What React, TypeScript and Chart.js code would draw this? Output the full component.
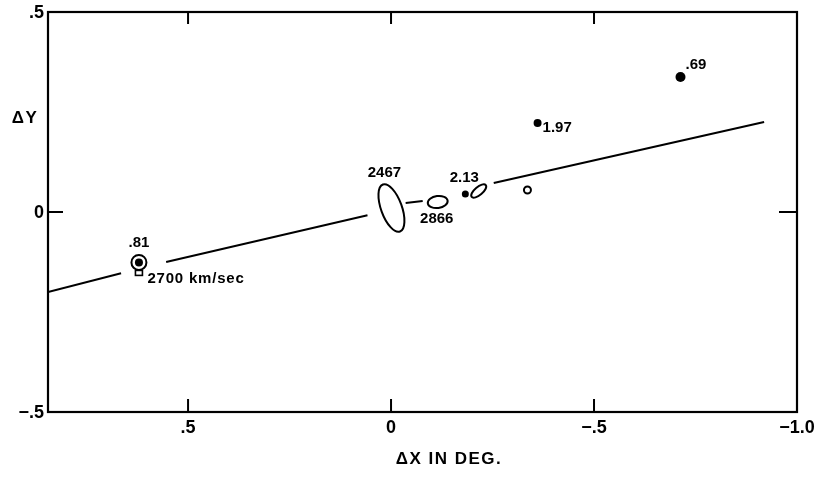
import React, { useEffect, useRef } from 'react';
import { Chart, registerables } from 'chart.js';

Chart.register(...registerables);

// ---- data ----
const xTickValues = [0.5, 0, -0.5, -1.0];
const xTickLabels = ['.5', '0', '\u2212.5', '\u22121.0'];
const yTickValues = [0.5, 0, -0.5];
const yTickLabels = ['.5', '0', '\u2212.5'];

// fitted line, drawn in pieces (gaps around symbols and labels)
const lineSeg1X = [0.845, 0.665];
const lineSeg1Y = [-0.2, -0.153];
const lineSeg2X = [0.554, 0.058];
const lineSeg2Y = [-0.125, -0.008];
const lineSeg3X = [-0.036, -0.078];
const lineSeg3Y = [0.0225, 0.0275];
const lineSeg4X = [-0.253, -0.919];
const lineSeg4Y = [0.0725, 0.225];

// filled dots
const dotNames = ['.81', '2.13', '1.97', '.69'];
const dotX = [0.621, -0.183, -0.361, -0.713];
const dotY = [-0.126, 0.045, 0.2225, 0.3375];

// open circle
const openX = [-0.336];
const openY = [0.055];

// error ellipses (semi-axes in data units)
const ellipseNames = ['2467', '2866', ''];
const ellipseX = [-0.001, -0.115, -0.216];
const ellipseY = [0.01, 0.025, 0.0525];
const ellipseRx = [0.026, 0.025, 0.023];
const ellipseRy = [0.0625, 0.015, 0.01];
const ellipseRot = [-20, -8, -40];

const velocityLabel = '2700 km/sec';
const xTitle = '\u0394X IN DEG.';
const yTitle = '\u0394Y';

// ---- styles / label placement (pixels) ----
const TICK_FONT = 'bold 18px "Liberation Sans", Arial, sans-serif';
const TITLE_FONT = 'bold 17px "Liberation Sans", Arial, sans-serif';
const LABEL_FONT = 'bold 15px "Liberation Sans", Arial, sans-serif';
const dotLabelStyle = [
  { dx: 0, dy: -19.5, align: 'center' },
  { dx: -1, dy: -16.5, align: 'center' },
  { dx: 5, dy: 5, align: 'left' },
  { dx: 5, dy: -12, align: 'left' },
];
const ellipseLabelStyle = [
  { dx: -7, dy: -35, align: 'center' },
  { dx: -1, dy: 17, align: 'center' },
  { dx: 0, dy: 0, align: 'center' },
];

const overlayPlugin = {
  id: 'overlay',
  afterDatasetsDraw(chart: any) {
    const { ctx, chartArea, scales } = chart;
    const xs = scales.x;
    const ys = scales.y;
    const { left, right, top, bottom } = chartArea;
    const unitY = Math.abs(ys.getPixelForValue(0) - ys.getPixelForValue(1));
    ctx.save();
    ctx.strokeStyle = '#000';
    ctx.fillStyle = '#000';

    // ellipses
    ctx.lineWidth = 2;
    for (let i = 0; i < ellipseX.length; i++) {
      const cx = xs.getPixelForValue(ellipseX[i]);
      const cy = ys.getPixelForValue(ellipseY[i]);
      ctx.beginPath();
      ctx.ellipse(cx, cy, ellipseRx[i] * unitY, ellipseRy[i] * unitY, (ellipseRot[i] * Math.PI) / 180, 0, Math.PI * 2);
      ctx.stroke();
    }

    // small square under the .81 symbol
    {
      const cx = xs.getPixelForValue(dotX[0]);
      const cy = ys.getPixelForValue(dotY[0]);
      ctx.lineWidth = 1.6;
      ctx.strokeRect(cx - 3.5, cy + 8, 7, 5);
    }

    // frame
    ctx.lineWidth = 2.2;
    ctx.strokeRect(left, top, right - left, bottom - top);

    // ticks
    ctx.lineWidth = 2;
    for (const v of xTickValues) {
      const px = xs.getPixelForValue(v);
      if (px <= left + 2 || px >= right - 2) continue;
      ctx.beginPath();
      ctx.moveTo(px, bottom);
      ctx.lineTo(px, bottom - 13);
      ctx.moveTo(px, top);
      ctx.lineTo(px, top + 12);
      ctx.stroke();
    }
    for (const v of yTickValues) {
      const py = ys.getPixelForValue(v);
      if (py <= top + 2 || py >= bottom - 2) continue;
      ctx.beginPath();
      ctx.moveTo(left, py);
      ctx.lineTo(left + 15, py);
      ctx.moveTo(right, py);
      ctx.lineTo(right - 18, py);
      ctx.stroke();
    }

    // tick labels
    ctx.font = TICK_FONT;
    ctx.textBaseline = 'middle';
    ctx.textAlign = 'center';
    xTickValues.forEach((v, i) => {
      ctx.fillText(xTickLabels[i], xs.getPixelForValue(v), bottom + 16);
    });
    ctx.textAlign = 'right';
    yTickValues.forEach((v, i) => {
      ctx.fillText(yTickLabels[i], left - 4, ys.getPixelForValue(v) + 1);
    });

    // axis titles
    ctx.textAlign = 'center';
    ctx.font = TITLE_FONT;
    (ctx as any).letterSpacing = '1.5px';
    ctx.fillText(xTitle, 449, 459);
    ctx.fillText(yTitle, 25, 118);
    (ctx as any).letterSpacing = '0px';

    // point labels
    ctx.font = LABEL_FONT;
    dotNames.forEach((name, i) => {
      const s = dotLabelStyle[i];
      ctx.textAlign = s.align;
      ctx.fillText(name, xs.getPixelForValue(dotX[i]) + s.dx, ys.getPixelForValue(dotY[i]) + s.dy);
    });
    ellipseNames.forEach((name, i) => {
      if (!name) return;
      const s = ellipseLabelStyle[i];
      ctx.textAlign = s.align;
      ctx.fillText(name, xs.getPixelForValue(ellipseX[i]) + s.dx, ys.getPixelForValue(ellipseY[i]) + s.dy);
    });
    // velocity label next to the .81 symbol
    ctx.textAlign = 'left';
    ctx.font = 'bold 15px "Liberation Sans", Arial, sans-serif';
    (ctx as any).letterSpacing = '0.8px';
    ctx.fillText(velocityLabel, xs.getPixelForValue(dotX[0]) + 8.5, ys.getPixelForValue(dotY[0]) + 16);
    (ctx as any).letterSpacing = '0px';

    ctx.restore();
  },
};

function seg(xa: number[], ya: number[]) {
  return {
    data: xa.map((x, i) => ({ x, y: ya[i] })),
    showLine: true,
    pointRadius: 0,
    borderColor: '#000',
    borderWidth: 2,
    backgroundColor: '#000',
  };
}

export default function App() {
  const ref = useRef<HTMLCanvasElement | null>(null);
  useEffect(() => {
    if (!ref.current) return;
    const chart = new Chart(ref.current, {
      type: 'scatter',
      data: {
        datasets: [
          seg(lineSeg1X, lineSeg1Y),
          seg(lineSeg2X, lineSeg2Y),
          seg(lineSeg3X, lineSeg3Y),
          seg(lineSeg4X, lineSeg4Y),
          {
            data: dotX.map((x, i) => ({ x, y: dotY[i] })),
            pointRadius: [4, 3.5, 4, 5],
            pointBackgroundColor: '#000',
            pointBorderWidth: 0,
            showLine: false,
          } as any,
          {
            data: openX.map((x, i) => ({ x, y: openY[i] })),
            pointRadius: 3.5,
            pointBackgroundColor: '#fff',
            pointBorderColor: '#000',
            pointBorderWidth: 2,
            showLine: false,
          } as any,
          {
            data: [{ x: dotX[0], y: dotY[0] }],
            pointRadius: 7.5,
            pointBackgroundColor: 'rgba(0,0,0,0)',
            pointBorderColor: '#000',
            pointBorderWidth: 2,
            showLine: false,
          } as any,
        ],
      },
      options: {
        responsive: false,
        animation: false,
        devicePixelRatio: 1,
        events: [],
        layout: { padding: { left: 48, right: 25, top: 12, bottom: 77 } },
        plugins: { legend: { display: false }, tooltip: { enabled: false } },
        scales: {
          x: { type: 'linear', min: -1.0, max: 0.845, reverse: true, display: false },
          y: { type: 'linear', min: -0.5, max: 0.5, display: false },
        },
      },
      plugins: [overlayPlugin],
    } as any);
    return () => chart.destroy();
  }, []);
  return (
    <div style={{ position: 'fixed', left: 0, top: 0, width: 822, height: 489, background: '#fff' }}>
      <canvas ref={ref} width={822} height={489} />
    </div>
  );
}
